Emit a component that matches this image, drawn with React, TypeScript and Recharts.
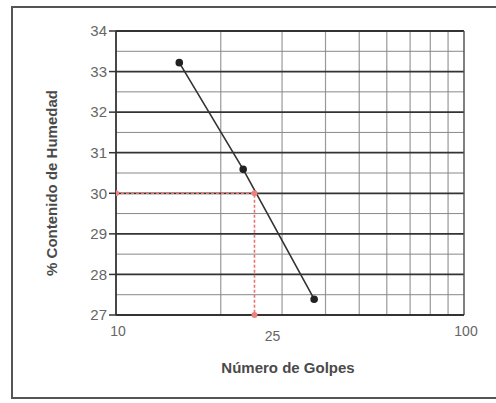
import {
  ComposedChart,
  Line,
  XAxis,
  YAxis,
  ReferenceLine,
  Label,
} from "recharts";

// ensayo de limite liquido: golpes vs humedad
const golpes = [15.2, 23.2, 37.1];
const humedad = [33.22, 30.59, 27.39];

// lectura a 25 golpes
const guiaGolpes = [10, 25, 25];
const guiaHumedad = [30, 30, 27];

const xTicks = [10, 25, 100];
const yTicks = [27, 28, 29, 30, 31, 32, 33, 34];
const xMinor = [20, 30, 40, 50, 60, 70, 80, 90];
const yMinor = [27.5, 28.5, 29.5, 30.5, 31.5, 32.5, 33.5];

const data = golpes.map((g, i) => ({ x: g, y: humedad[i] }));
const guia = guiaGolpes.map((g, i) => ({ x: g, y: guiaHumedad[i] }));

const font = "'Liberation Sans', Arial, sans-serif";

function XTick({ x, y, payload }: any) {
  const is25 = payload.value === 25;
  return (
    <text
      x={x + (is25 ? 18 : 2)}
      y={y + (is25 ? 18 : 13)}
      textAnchor="middle"
      fill="#666"
      fontSize={14}
      fontFamily={font}
    >
      {payload.value}
    </text>
  );
}

export default function App() {
  return (
    <div
      style={{
        position: "absolute",
        left: 0,
        top: 0,
        width: 496,
        height: 403,
        overflow: "hidden",
        background: "#fff",
      }}
    >
      <div
        style={{
          position: "absolute",
          left: 11,
          top: 6,
          width: 540,
          height: 389,
          border: "2px solid #555",
        }}
      />
      <div style={{ position: "absolute", left: 0, top: 0 }}>
        <ComposedChart
          width={496}
          height={403}
          margin={{ top: 31, right: 32, bottom: 28, left: 0 }}
        >
          {xMinor.map((v) => (
            <ReferenceLine key={"vx" + v} x={v} stroke="#999" strokeWidth={1.2} />
          ))}
          {yMinor.map((v) => (
            <ReferenceLine key={"my" + v} y={v} stroke="#888" strokeWidth={1} />
          ))}
          {yTicks.map((v) => (
            <ReferenceLine key={"My" + v} y={v} stroke="#333" strokeWidth={1.8} />
          ))}
          <ReferenceLine x={100} stroke="#555" strokeWidth={1.5} />
          <XAxis
            dataKey="x"
            type="number"
            scale="log"
            domain={[10, 100]}
            ticks={xTicks}
            allowDataOverflow
            height={60}
            axisLine={{ stroke: "#333", strokeWidth: 1.8 }}
            tickLine={false}
            tick={<XTick />}
          >
            <Label
              content={({ viewBox }: any) => (
                <text
                  x={viewBox.x + viewBox.width / 2 - 2}
                  y={viewBox.y + 58}
                  textAnchor="middle"
                  fill="#4a4a4a"
                  fontSize={15}
                  fontWeight="bold"
                  fontFamily={font}
                >
                  Número de Golpes
                </text>
              )}
            />
          </XAxis>
          <YAxis
            dataKey="y"
            type="number"
            domain={[27, 34]}
            ticks={yTicks}
            width={116}
            axisLine={{ stroke: "#333", strokeWidth: 1.8 }}
            tickLine={{ stroke: "#333", strokeWidth: 1.5 }}
            tickSize={7}
            tick={{ fill: "#666", fontSize: 15, fontFamily: font }}
          >
            <Label
              content={({ viewBox }: any) => {
                const cx = viewBox.x + 57;
                const cy = viewBox.y + viewBox.height / 2 + 10;
                return (
                  <text
                    x={cx}
                    y={cy}
                    textAnchor="middle"
                    fill="#4a4a4a"
                    fontSize={15}
                    fontWeight="bold"
                    fontFamily={font}
                    transform={`rotate(-90 ${cx} ${cy})`}
                  >
                    % Contenido de Humedad
                  </text>
                );
              }}
            />
          </YAxis>
          <Line
            data={guia}
            dataKey="y"
            stroke="#e57373"
            strokeWidth={1.6}
            strokeDasharray="3 2"
            dot={{ r: 3, fill: "#f08080", stroke: "none" }}
            isAnimationActive={false}
          />
          <Line
            data={data}
            dataKey="y"
            stroke="#333"
            strokeWidth={1.6}
            dot={{ r: 3, fill: "#222", stroke: "#222" }}
            isAnimationActive={false}
          />
        </ComposedChart>
      </div>
    </div>
  );
}
